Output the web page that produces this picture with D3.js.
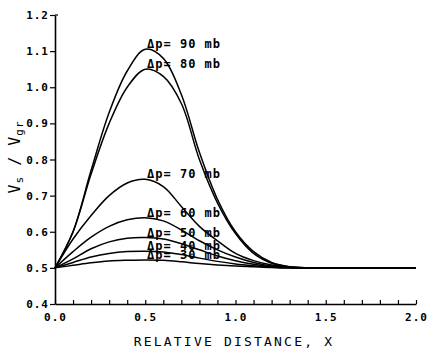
<!DOCTYPE html>
<html>
<head>
<meta charset="utf-8">
<script src="https://cdn.jsdelivr.net/npm/d3@7"></script>
<style>
  body { margin: 0; background: #fff; }
  text { font-family: "DejaVu Sans Mono", monospace; fill: #000; }
</style>
</head>
<body>
<div id="graph"></div>
<script>
// relative distance X
const xValues = [0, 0.1, 0.2, 0.3, 0.4, 0.5, 0.6, 0.7, 0.8, 0.9, 1.0, 1.1, 1.2, 1.3, 1.4, 2.0];

// Vs / Vgr for each pressure drop
const dp90 = [0.50, 0.60, 0.77, 0.93, 1.045, 1.105, 1.08, 0.98, 0.82, 0.69, 0.60, 0.545, 0.515, 0.503, 0.50, 0.50];
const dp80 = [0.50, 0.60, 0.76, 0.90, 1.00, 1.05, 1.03, 0.955, 0.80, 0.68, 0.595, 0.54, 0.513, 0.503, 0.50, 0.50];
const dp70 = [0.50, 0.58, 0.645, 0.70, 0.735, 0.745, 0.725, 0.67, 0.615, 0.575, 0.54, 0.52, 0.508, 0.502, 0.50, 0.50];
const dp60 = [0.50, 0.545, 0.585, 0.615, 0.633, 0.639, 0.63, 0.605, 0.575, 0.55, 0.53, 0.515, 0.505, 0.501, 0.50, 0.50];
const dp50 = [0.50, 0.525, 0.553, 0.572, 0.582, 0.584, 0.58, 0.567, 0.55, 0.533, 0.52, 0.51, 0.503, 0.50, 0.50, 0.50];
const dp40 = [0.50, 0.515, 0.53, 0.54, 0.545, 0.546, 0.544, 0.537, 0.527, 0.518, 0.511, 0.506, 0.502, 0.50, 0.50, 0.50];
const dp30 = [0.50, 0.507, 0.514, 0.519, 0.521, 0.522, 0.521, 0.517, 0.512, 0.508, 0.505, 0.503, 0.501, 0.50, 0.50, 0.50];

const seriesNames = ["90", "80", "70", "60", "50", "40", "30"];
const seriesValues = [dp90, dp80, dp70, dp60, dp50, dp40, dp30];

const xTicks = [0, 0.5, 1.0, 1.5, 2.0];
const yTicks = [0.4, 0.5, 0.6, 0.7, 0.8, 0.9, 1.0, 1.1, 1.2];

const w = 428;
const h = 352;

const xScale = d3.scaleLinear().domain([0, 2]).range([55, 416]);
const yScale = d3.scaleLinear().domain([0.4, 1.2]).range([304, 15]);

const svg = d3.select("#graph")
              .append("svg")
              .attr("width", w)
              .attr("height", h);

// bottom axis, ticks point inward
const xAxis = d3.axisBottom(xScale)
                .tickValues(d3.range(0, 2.001, 0.1))
                .tickSize(-4)
                .tickSizeOuter(0)
                .tickFormat(d => xTicks.some(t => Math.abs(t - d) < 1e-6) ? d3.format(".1f")(d) : "");

const gx = svg.append("g")
   .attr("transform", "translate(0," + yScale(0.4) + ")")
   .call(xAxis);
gx.select(".domain").attr("stroke-width", 1.6);
gx.selectAll(".tick line").attr("stroke-width", 1.2);
gx.selectAll(".tick text")
  .attr("y", 9)
  .style("font-size", "11px")
  .style("font-weight", "bold")
  .style("letter-spacing", "1px")
  .style("font-family", "DejaVu Sans Mono");

const yAxis = d3.axisLeft(yScale)
                .tickValues(yTicks)
                .tickSize(5)
                .tickSizeOuter(0)
                .tickFormat(d3.format(".1f"));

const gy = svg.append("g")
   .attr("transform", "translate(" + xScale(0) + ",0)")
   .call(yAxis);
gy.select(".domain").attr("stroke-width", 1.6);
gy.selectAll(".tick line").attr("stroke-width", 1.2);
gy.selectAll(".tick text")
  .attr("x", -6)
  .style("font-size", "11px")
  .style("font-weight", "bold")
  .style("letter-spacing", "1px")
  .style("font-family", "DejaVu Sans Mono");

// small stub at the top of the y axis
svg.append("line")
   .attr("x1", xScale(0)).attr("x2", xScale(0) + 3)
   .attr("y1", yScale(1.2)).attr("y2", yScale(1.2))
   .attr("stroke", "#000").attr("stroke-width", 1.2);

const line = d3.line()
               .x((d, i) => xScale(xValues[i]))
               .y(d => yScale(d))
               .curve(d3.curveCatmullRom.alpha(0.5));

svg.selectAll(".curve")
   .data(seriesValues)
   .enter()
   .append("path")
   .attr("class", "curve")
   .attr("d", d => line(d))
   .attr("fill", "none")
   .attr("stroke", "#000")
   .attr("stroke-width", 1.5);

// labels sit just over each peak
svg.selectAll(".lbl")
   .data(seriesNames)
   .enter()
   .append("text")
   .attr("class", "lbl")
   .attr("x", xScale(0.51))
   .attr("y", (d, i) => yScale(d3.max(seriesValues[i])) - 1)
   .attr("xml:space", "preserve")
   .style("font-size", "12px")
   .style("font-weight", "bold")
   .style("letter-spacing", "1px")
   .text(d => "\u0394p= " + d + " mb");

svg.append("text")
   .attr("x", 234)
   .attr("y", 346)
   .attr("text-anchor", "middle")
   .style("font-size", "13px")
   .style("letter-spacing", "2.2px")
   .text("RELATIVE DISTANCE, X");

const yLabel = svg.append("text")
   .attr("transform", "translate(20,157) rotate(-90)")
   .attr("text-anchor", "middle")
   .style("font-size", "15px")
   .style("letter-spacing", "1px");
yLabel.append("tspan").text("V");
yLabel.append("tspan").attr("dy", 3).style("font-size", "11px").text("s");
yLabel.append("tspan").attr("dy", -3).attr("xml:space", "preserve").text(" / V");
yLabel.append("tspan").attr("dy", 3).style("font-size", "11px").text("gr");
</script>
</body>
</html>
